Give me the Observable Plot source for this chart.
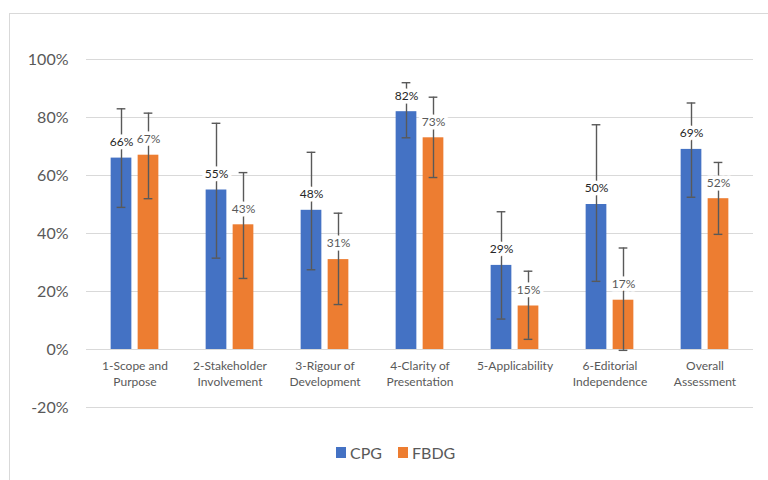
<!DOCTYPE html>
<html>
<head>
<meta charset="utf-8">
<script src="https://cdn.jsdelivr.net/npm/d3@7"></script>
<script src="https://cdn.jsdelivr.net/npm/@observablehq/plot@0.6"></script>
<style>
  html, body { margin: 0; padding: 0; background: #fff; }
  body { width: 768px; height: 480px; position: relative; overflow: hidden; font-family: Lato, "Open Sans", sans-serif; }
  #frame { position: absolute; left: 9px; top: 13px; width: 800px; height: 500px; border: 1px solid #d9d9d9; pointer-events: none; }
  #chart { position: absolute; left: 0; top: 0; }
  #legend { position: absolute; left: 336px; top: 443px; display: flex; align-items: center; font-size: 16px; color: #595959; }
  #legend .sw { width: 10px; height: 11px; display: inline-block; margin-right: 4px; }
  #legend .item { display: flex; align-items: center; margin-right: 16px; }
</style>
</head>
<body>
<div id="chart"></div>
<div id="frame"></div>
<div id="legend"></div>
<script>
const categories = ["1-Scope and\nPurpose", "2-Stakeholder\nInvolvement", "3-Rigour of\nDevelopment", "4-Clarity of\nPresentation", "5-Applicability", "6-Editorial\nIndependence", "Overall\nAssessment"];
const seriesNames = ["CPG", "FBDG"];
const cpgValues = [0.66, 0.55, 0.48, 0.82, 0.29, 0.50, 0.69];
const cpgLow    = [0.49, 0.315, 0.275, 0.73, 0.105, 0.235, 0.525];
const cpgHigh   = [0.83, 0.78, 0.68, 0.92, 0.475, 0.775, 0.85];
const fbdgValues = [0.67, 0.43, 0.31, 0.73, 0.15, 0.17, 0.52];
const fbdgLow    = [0.52, 0.245, 0.155, 0.593, 0.035, -0.003, 0.397];
const fbdgHigh   = [0.815, 0.61, 0.47, 0.87, 0.27, 0.35, 0.645];
const yTicks = [-0.2, 0, 0.2, 0.4, 0.6, 0.8, 1.0];
const colors = ["#4472C4", "#ED7D31"];
const labelColors = ["#262626", "#595959"];

const cpgRows = categories.map((c, i) => ({cat: c, series: "CPG", value: cpgValues[i], low: cpgLow[i], high: cpgHigh[i]}));
const fbdgRows = categories.map((c, i) => ({cat: c, series: "FBDG", value: fbdgValues[i], low: fbdgLow[i], high: fbdgHigh[i]}));

const W = 768, H = 430, ML = 86, MR = 15;
const bw = (W - ML - MR) / categories.length;
const barW = 21, gap = 6;
const off = (gap + barW) / 2;
const capW = 9;
const pct = d => Math.round(d * 100) + "%";

function seriesMarks(rows, k) {
  const sign = k === 0 ? -1 : 1;
  const inner = bw / 2 - gap / 2 - barW;
  const outer = bw / 2 + gap / 2;
  return [
    Plot.barY(rows, {x: "cat", y: "value", fill: colors[k],
      insetLeft: k === 0 ? inner : outer, insetRight: k === 0 ? outer : inner}),
    Plot.ruleX(rows, {x: "cat", y1: "low", y2: "high", dx: sign * off, stroke: "#595959", strokeWidth: 1.4}),
    Plot.tickY(rows, {x: "cat", y: "high", dx: sign * off, stroke: "#595959", strokeWidth: 1.4, insetLeft: (bw - capW) / 2, insetRight: (bw - capW) / 2}),
    Plot.tickY(rows, {x: "cat", y: "low", dx: sign * off, stroke: "#595959", strokeWidth: 1.4, insetLeft: (bw - capW) / 2, insetRight: (bw - capW) / 2})
  ];
}
function labelMarks(rows, k) {
  const sign = k === 0 ? -1 : 1;
  return Plot.text(rows, {x: "cat", y: "value", text: d => pct(d.value), dx: sign * off, dy: -16,
    fill: labelColors[k], stroke: "white", strokeWidth: 7, fontSize: 12});
}

const chart = Plot.plot({
  width: W, height: H,
  marginLeft: ML, marginRight: MR, marginTop: 59, marginBottom: H - 407,
  style: {fontFamily: "Lato, 'Open Sans', sans-serif", color: "#595959", background: "transparent"},
  x: {domain: categories, padding: 0, axis: null},
  y: {domain: [-0.2, 1.0]},
  marks: [
    Plot.gridY(yTicks, {stroke: "#d9d9d9", strokeOpacity: 1, strokeWidth: 1}),
    Plot.axisY(yTicks, {tickFormat: pct, tickSize: 0, tickPadding: 18, fontSize: 16, fill: "#595959"}),
    ...seriesMarks(cpgRows, 0),
    ...seriesMarks(fbdgRows, 1),
    labelMarks(cpgRows, 0),
    labelMarks(fbdgRows, 1),
    Plot.text(categories, {x: d => d, y: d => 0, dy: 9, lineAnchor: "top", lineHeight: 1.35, fontSize: 12, fill: "#595959"})
  ]
});
document.getElementById("chart").appendChild(chart);

const legend = document.getElementById("legend");
seriesNames.forEach((s, k) => {
  const item = document.createElement("span");
  item.className = "item";
  item.innerHTML = `<span class="sw" style="background:${colors[k]}"></span><span>${s}</span>`;
  legend.appendChild(item);
});
</script>
</body>
</html>
